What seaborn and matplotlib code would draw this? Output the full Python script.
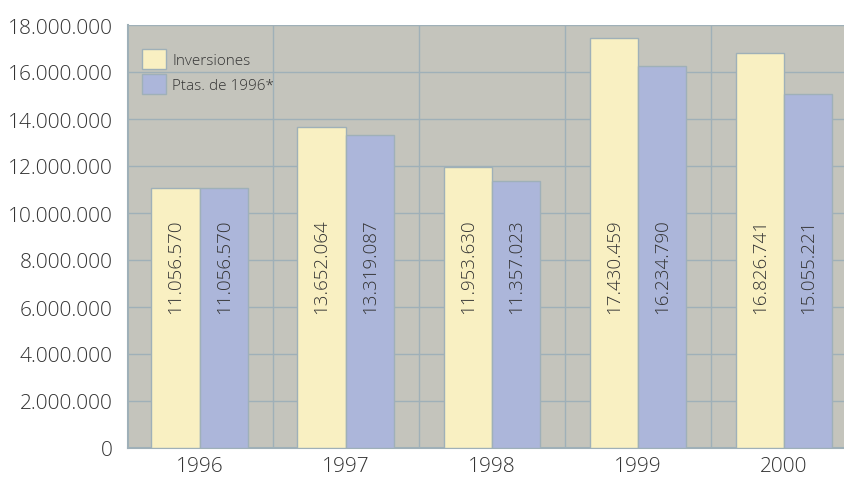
import pandas as pd
import matplotlib
matplotlib.use("Agg")
import matplotlib.pyplot as plt
import matplotlib.ticker as mticker
import seaborn as sns

# Data
years = ["1996", "1997", "1998", "1999", "2000"]
inversiones = [11056570, 13652064, 11953630, 17430459, 16826741]
ptas_1996 = [11056570, 13319087, 11357023, 16234790, 15055221]
series_names = ["Inversiones", "Ptas. de 1996*"]
colors = ["#F9F0C2", "#ACB6DA"]

def fmt_es(v):
    return f"{v:,.0f}".replace(",", ".")

df = pd.DataFrame({
    "year": years * 2,
    "value": inversiones + ptas_1996,
    "serie": [series_names[0]] * len(years) + [series_names[1]] * len(years),
})

sns.set_style("white")
plt.rcParams["font.family"] = ["Open Sans", "DejaVu Sans"]
plt.rcParams["font.weight"] = "light"

fig = plt.figure(figsize=(8.45, 4.81), dpi=100)
ax = fig.add_axes([128 / 845, 32 / 481, 1 - 128 / 845, 423 / 481])
ax.set_facecolor("#C4C4BC")

sns.barplot(data=df, x="year", y="value", hue="serie", palette=colors,
            saturation=1, width=0.66, edgecolor="#9FB0B8", linewidth=1.0,
            ax=ax, zorder=3)

ax.set_ylim(0, 18000000)
ax.set_xlim(-0.49, 4.417)
ax.yaxis.set_major_locator(mticker.MultipleLocator(2000000))
ax.yaxis.set_major_formatter(mticker.FuncFormatter(lambda v, p: fmt_es(v)))

# grid: horizontal at ticks, vertical between categories
ax.set_axisbelow(True)
ax.grid(axis="y", color="#9FB0B8", linewidth=1.0, zorder=0)
for b in [0.5, 1.5, 2.5, 3.5]:
    ax.axvline(b, color="#9FB0B8", linewidth=1.0, zorder=0)

for side in ["top", "right"]:
    ax.spines[side].set_visible(False)
for side in ["left", "bottom"]:
    ax.spines[side].set_color("#9FB0B8")
    ax.spines[side].set_linewidth(1.5)

ax.tick_params(axis="both", length=0, labelsize=15, labelcolor="#333333")
ax.tick_params(axis="y", pad=11)
ax.tick_params(axis="x", pad=6)
ax.set_xlabel("")
ax.set_ylabel("")

# value labels inside bars, vertical
for container in ax.containers:
    for bar, v in zip(container, container.datavalues):
        ax.text(bar.get_x() + bar.get_width() / 2, 7750000, fmt_es(v),
                rotation=90, ha="center", va="center", fontsize=13.5,
                color="#333333", zorder=4)

leg = ax.legend(loc="upper left", bbox_to_anchor=(0.0, 0.975), frameon=False,
                fontsize=11, handlelength=1.6, handleheight=1.6,
                handletextpad=0.4, labelspacing=0.35)
for t in leg.get_texts():
    t.set_color("#333333")

fig.savefig("out.png", dpi=100)
